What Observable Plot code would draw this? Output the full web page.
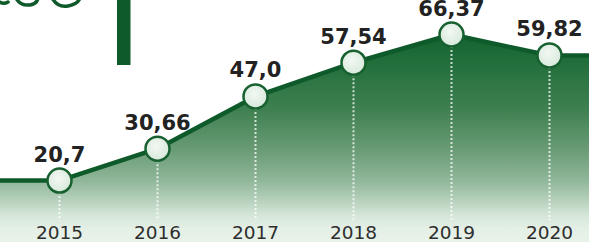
<!DOCTYPE html>
<html>
<head>
<meta charset="utf-8">
<script src="https://cdn.jsdelivr.net/npm/d3@7"></script>
<script src="https://cdn.jsdelivr.net/npm/@observablehq/plot@0.6"></script>
<style>
  html, body { margin: 0; padding: 0; background: #fff; }
  #wrap { position: relative; width: 589px; height: 242px; overflow: hidden; background: #fff; }
  #wrap svg.plot { overflow: hidden; }
  #deco { position: absolute; left: 0; top: 0; }
</style>
</head>
<body>
<svg width="0" height="0" style="position:absolute">
  <defs>
    <linearGradient id="areaGrad" gradientUnits="userSpaceOnUse" x1="0" y1="25" x2="0" y2="242">
      <stop offset="0" stop-color="#0f5c2a"/>
      <stop offset="0.115" stop-color="#1b6a36"/>
      <stop offset="0.39" stop-color="#3f8050"/>
      <stop offset="0.576" stop-color="#6a9c76"/>
      <stop offset="0.714" stop-color="#8fb699"/>
      <stop offset="0.806" stop-color="#b5d0bb"/>
      <stop offset="0.876" stop-color="#d5e6d8"/>
      <stop offset="0.935" stop-color="#e4efe5"/>
      <stop offset="1" stop-color="#e8f2e9"/>
    </linearGradient>
    <radialGradient id="dotGrad" cx="0.45" cy="0.4" r="0.7">
      <stop offset="0" stop-color="#f2f8f3"/>
      <stop offset="1" stop-color="#d3e6d7"/>
    </radialGradient>
  </defs>
</svg>
<div id="wrap"></div>
<script>
const years = [2015, 2016, 2017, 2018, 2019, 2020];
const values = [20.7, 30.66, 47.0, 57.54, 66.37, 59.82];
const valueLabels = ["20,7", "30,66", "47,0", "57,54", "66,37", "59,82"];
const yearLabels = ["2015", "2016", "2017", "2018", "2019", "2020"];

const data = years.map((y, i) => ({year: y, value: values[i], label: valueLabels[i], yearLabel: yearLabels[i]}));
// flat extensions of the series beyond the first and last year (same values as the ends)
const extended = [
  {year: years[0] - 1, value: values[0]},
  ...data,
  {year: years[years.length - 1] + 1, value: values[values.length - 1]}
];

const green = "#0f5a2a";

const chart = Plot.plot({
  width: 589,
  height: 242,
  marginTop: 0, marginRight: 0, marginBottom: 0, marginLeft: 0,
  style: {background: "transparent", overflow: "hidden"},
  x: {type: "linear", domain: [2015, 2020], range: [59, 549], axis: null},
  y: {domain: [0, 70], range: [246.2, 22.4], axis: null},
  marks: [
    Plot.areaY(extended, {x: "year", y: "value", fill: "url(#areaGrad)", curve: "linear"}),
    Plot.ruleX(data, {x: "year", y1: d => d.value, y2: 8, stroke: "white", strokeOpacity: 0.75, strokeWidth: 2, strokeDasharray: "2,2"}),
    Plot.line(extended, {x: "year", y: "value", stroke: green, strokeWidth: 4.5, curve: "linear"}),
    Plot.dot(data, {x: "year", y: "value", r: 12, fill: "url(#dotGrad)", stroke: "#17602f", strokeWidth: 2.5}),
    Plot.text(data, {x: "year", y: "value", text: "label", dy: -19, lineAnchor: "bottom", textAnchor: "middle",
      fontFamily: "DejaVu Sans", fontWeight: "bold", fontSize: 21, fill: "#222"}),
    Plot.text(data, {x: "year", text: "yearLabel", frameAnchor: "bottom", dy: -4, lineAnchor: "bottom", textAnchor: "middle",
      fontFamily: "DejaVu Sans", fontSize: 18.5, fill: "#2e2e2e"})
  ]
});
const wrap = document.getElementById("wrap");
wrap.appendChild(chart);

// decorative fragment of the cropped heading at the top-left
const deco = d3.create("svg").attr("id", "deco").attr("width", 589).attr("height", 242);
deco.append("rect").attr("x", 117).attr("y", -2).attr("width", 13.5).attr("height", 67).attr("fill", green);
deco.append("path").attr("d", "M-2,1 Q3,5 8,2 M16,-2 Q20,6 30,5 Q37,4 38,-2 M52,-2 Q58,8 68,6 Q78,4 80,-2")
  .attr("fill", "none").attr("stroke", green).attr("stroke-width", 3.5).attr("stroke-linecap", "round");
wrap.appendChild(deco.node());
</script>
</body>
</html>
